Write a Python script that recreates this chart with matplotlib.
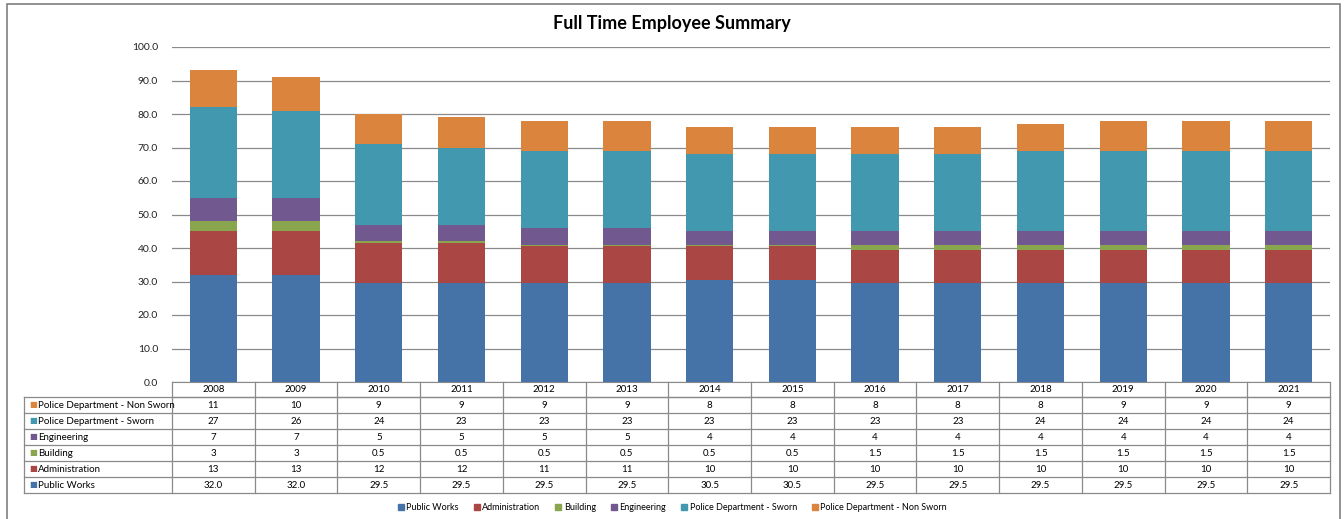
import matplotlib.pyplot as plt
import matplotlib.transforms as mtransforms
from matplotlib.patches import Rectangle
import numpy as np

plt.rcParams['font.family'] = ['Lato', 'DejaVu Sans']

years = ['2008', '2009', '2010', '2011', '2012', '2013', '2014',
         '2015', '2016', '2017', '2018', '2019', '2020', '2021']

public_works = [32.0, 32.0, 29.5, 29.5, 29.5, 29.5, 30.5, 30.5, 29.5, 29.5, 29.5, 29.5, 29.5, 29.5]
administration = [13, 13, 12, 12, 11, 11, 10, 10, 10, 10, 10, 10, 10, 10]
building = [3, 3, 0.5, 0.5, 0.5, 0.5, 0.5, 0.5, 1.5, 1.5, 1.5, 1.5, 1.5, 1.5]
engineering = [7, 7, 5, 5, 5, 5, 4, 4, 4, 4, 4, 4, 4, 4]
police_sworn = [27, 26, 24, 23, 23, 23, 23, 23, 23, 23, 24, 24, 24, 24]
police_non_sworn = [11, 10, 9, 9, 9, 9, 8, 8, 8, 8, 8, 9, 9, 9]

series_names = ['Public Works', 'Administration', 'Building', 'Engineering',
                'Police Department - Sworn', 'Police Department - Non Sworn']
series_vals = [public_works, administration, building, engineering,
               police_sworn, police_non_sworn]
colors = ['#4572A7', '#AA4643', '#89A54E', '#71588F', '#4198AF', '#DB843D']

W, H = 1344, 519
fig = plt.figure(figsize=(W / 100, H / 100), dpi=100)
ax = fig.add_axes([172 / W, 1 - 382 / H, (1330 - 172) / W, (382 - 47) / H])

x = np.arange(len(years))
bottom = np.zeros(len(years))
for name, vals, c in zip(series_names, series_vals, colors):
    ax.bar(x, vals, 0.57, bottom=bottom, color=c, label=name, zorder=3)
    bottom += np.array(vals)

ax.set_xlim(-0.5, len(years) - 0.5)
ax.set_ylim(0, 100)
ax.set_yticks(np.arange(0, 101, 10))
ax.set_yticklabels([f'{v:.1f}' for v in np.arange(0, 101, 10)], fontsize=7.5, color='#222222')
ax.set_xticks([])
ax.tick_params(axis='y', length=0, pad=10)
ax.grid(axis='y', color='#8a8a8a', linewidth=0.9, zorder=0)
for s in ['top', 'right', 'left']:
    ax.spines[s].set_visible(False)
ax.spines['bottom'].set_color('#8a8a8a')

fig.suptitle('Full Time Employee Summary', y=1 - 24 / H, va='center',
             fontsize=13, fontweight='bold')

# data table under the plot: x in data units, y in axes fraction
trans = mtransforms.blended_transform_factory(ax.transData, ax.transAxes)
row_h = 16 / (382 - 47)
label_left = -0.5 - 148 / ((1330 - 172) / len(years))
n_rows = len(series_names)
line_kw = dict(color='#8a8a8a', linewidth=0.9, transform=trans, clip_on=False)

# header row
y_top = 0
y_hdr = -15 / (382 - 47)
for i, yr in enumerate(years):
    ax.text(i, (y_top + y_hdr) / 2, yr, ha='center', va='center', fontsize=7,
            transform=trans, clip_on=False)
y_bottom = y_hdr - n_rows * row_h
ax.plot([-0.5, len(years) - 0.5], [y_hdr, y_hdr], **line_kw)
for k in range(n_rows + 1):
    yy = y_hdr - k * row_h
    ax.plot([label_left, len(years) - 0.5], [yy, yy], **line_kw)
for i in range(len(years) + 1):
    ax.plot([i - 0.5, i - 0.5], [y_top, y_bottom], **line_kw)
ax.plot([label_left, label_left], [y_hdr, y_bottom], **line_kw)

rows = list(zip(series_names, series_vals, colors))[::-1]
for k, (name, vals, c) in enumerate(rows):
    yc = y_hdr - (k + 0.5) * row_h
    ax.text(label_left + 0.06, yc, '\u25A0', color=c, ha='left', va='center',
            fontsize=6, transform=trans, clip_on=False, family='DejaVu Sans')
    ax.text(label_left + 0.17, yc, name, ha='left', va='center', fontsize=7,
            transform=trans, clip_on=False)
    for i, v in enumerate(vals):
        txt = f'{v:.1f}' if name == 'Public Works' else f'{v:g}'
        ax.text(i, yc, txt, ha='center', va='center', fontsize=7,
                transform=trans, clip_on=False)

handles, labels = ax.get_legend_handles_labels()
from matplotlib.lines import Line2D
leg_handles = [Line2D([], [], marker='s', linestyle='', color=c, markersize=4.5) for c in colors]
fig.legend(leg_handles, series_names, loc='center', bbox_to_anchor=(672 / W, 1 - 508 / H),
           ncol=6, frameon=False, fontsize=6.5, handletextpad=0.2, columnspacing=1.6,
           handlelength=0.8)

fig.patches.append(Rectangle((7 / W, -0.05), (1340 - 7) / W, 1.05 - 4 / H,
                             transform=fig.transFigure, fill=False,
                             edgecolor='#7f7f7f', linewidth=1.2))

fig.savefig('out.png', dpi=100)
